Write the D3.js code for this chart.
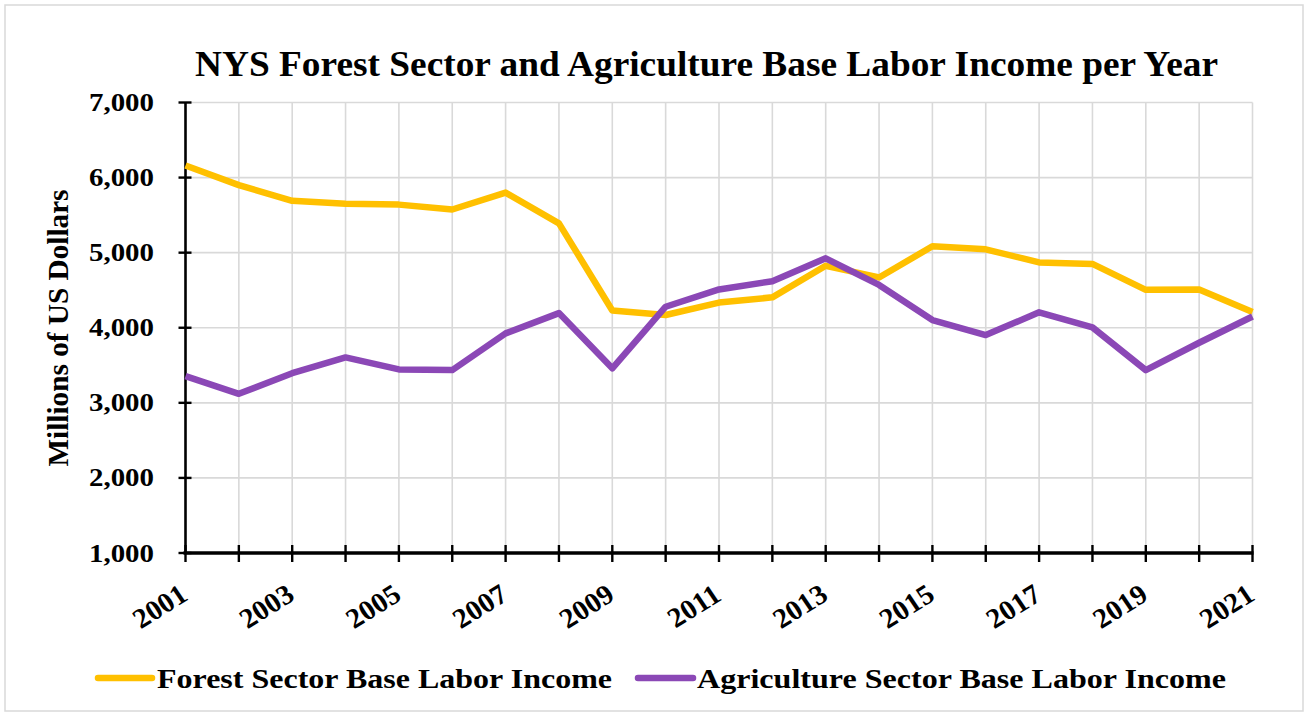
<!DOCTYPE html>
<html>
<head>
<meta charset="utf-8">
<script src="https://cdn.jsdelivr.net/npm/d3@7/dist/d3.min.js"></script>
<style>
  html, body { margin: 0; padding: 0; background: #fff; }
  svg { display: block; }
  text { font-family: "Liberation Serif", "Times New Roman", serif; font-weight: bold; fill: #000; }
</style>
</head>
<body>
<svg id="chart" width="1309" height="717"></svg>
<script>
// Years on the x axis
const years = d3.range(2001, 2022);
// Labelled years (every other year)
const yearLabels = [2001, 2003, 2005, 2007, 2009, 2011, 2013, 2015, 2017, 2019, 2021];
// Base labor income, millions of US dollars
const forestIncome = [6160, 5900, 5690, 5650, 5640, 5575, 5800, 5390, 4230, 4170, 4335,
                      4405, 4825, 4670, 5085, 5045, 4870, 4850, 4505, 4510, 4210];
const agricultureIncome = [3355, 3120, 3395, 3605, 3445, 3436, 3925, 4195, 3460, 4280, 4510,
                           4620, 4925, 4570, 4103, 3903, 4205, 4005, 3436, 3800, 4150];
const yTicks = [1000, 2000, 3000, 4000, 5000, 6000, 7000];
const seriesNames = ["Forest Sector Base Labor Income", "Agriculture Sector Base Labor Income"];
const seriesColors = ["#FFC000", "#8B48B6"];

const svg = d3.select("#chart");

// outer frame
svg.append("rect").attr("x", 5).attr("y", 5).attr("width", 1298).attr("height", 706)
  .attr("fill", "#fff").attr("stroke", "#d9d9d9").attr("stroke-width", 1.5);

const plotLeft = 185.5, plotRight = 1252.5, plotTop = 102.5, plotBottom = 553;
const x = d3.scaleLinear().domain([2001, 2021]).range([plotLeft, plotRight]);
const y = d3.scaleLinear().domain([1000, 7000]).range([plotBottom, plotTop]);

// gridlines
const grid = svg.append("g").attr("stroke", "#d9d9d9").attr("stroke-width", 1.6);
grid.selectAll("line.h").data(yTicks.slice(1)).join("line").attr("class", "h")
  .attr("x1", plotLeft).attr("x2", plotRight).attr("y1", d => y(d)).attr("y2", d => y(d));
grid.selectAll("line.v").data(years.slice(1)).join("line").attr("class", "v")
  .attr("x1", d => x(d)).attr("x2", d => x(d)).attr("y1", plotTop).attr("y2", plotBottom);

// y axis
svg.append("line").attr("x1", plotLeft).attr("x2", plotLeft).attr("y1", plotTop).attr("y2", plotBottom)
  .attr("stroke", "#000").attr("stroke-width", 2.6);
svg.append("g").selectAll("line").data(yTicks).join("line")
  .attr("x1", plotLeft - 7).attr("x2", plotLeft + 6).attr("y1", d => y(d)).attr("y2", d => y(d))
  .attr("stroke", "#000").attr("stroke-width", 2.4);
svg.append("g").selectAll("text").data(yTicks).join("text")
  .attr("x", 154).attr("y", d => y(d) + 8.5)
  .attr("text-anchor", "end").attr("font-size", 25)
  .attr("textLength", 65).attr("lengthAdjust", "spacingAndGlyphs")
  .text(d3.format(","));

// x axis
svg.append("line").attr("x1", plotLeft - 2).attr("x2", plotRight + 1).attr("y1", plotBottom).attr("y2", plotBottom)
  .attr("stroke", "#000").attr("stroke-width", 3.4);
svg.append("g").selectAll("line").data(years).join("line")
  .attr("x1", d => x(d)).attr("x2", d => x(d)).attr("y1", plotBottom - 8).attr("y2", plotBottom + 9)
  .attr("stroke", "#000").attr("stroke-width", 2.4);
svg.append("g").selectAll("text").data(yearLabels).join("text")
  .attr("transform", d => `translate(${x(d) + 4},${plotBottom + 46}) scale(1.04,1) rotate(-33)`)
  .attr("text-anchor", "end").attr("font-size", 28)
  .text(d => d);

// series lines
const line = d3.line().x((d, i) => x(years[i])).y(d => y(d));
[forestIncome, agricultureIncome].forEach((s, i) => {
  svg.append("path").datum(s).attr("d", line)
    .attr("fill", "none").attr("stroke", seriesColors[i]).attr("stroke-width", 6.5)
    .attr("stroke-linejoin", "round");
});

// y axis title
svg.append("text").attr("transform", "translate(68,328) rotate(-90)")
  .attr("text-anchor", "middle").attr("font-size", 28.5)
  .attr("textLength", 277).attr("lengthAdjust", "spacingAndGlyphs")
  .text("Millions of US Dollars");

// title
svg.append("text").attr("x", 706.5).attr("y", 76)
  .attr("text-anchor", "middle").attr("font-size", 36)
  .attr("textLength", 1023).attr("lengthAdjust", "spacingAndGlyphs")
  .text("NYS Forest Sector and Agriculture Base Labor Income per Year");

// legend
const legendItems = [
  { x0: 98, x1: 152, tx: 157, len: 455 },
  { x0: 638, x1: 693, tx: 697, len: 529 }
];
legendItems.forEach((it, i) => {
  svg.append("line").attr("x1", it.x0).attr("x2", it.x1).attr("y1", 678).attr("y2", 678)
    .attr("stroke", seriesColors[i]).attr("stroke-width", 6.5).attr("stroke-linecap", "round");
  svg.append("text").attr("x", it.tx).attr("y", 688).attr("font-size", 28)
    .attr("textLength", it.len).attr("lengthAdjust", "spacingAndGlyphs")
    .text(seriesNames[i]);
});
</script>
</body>
</html>
